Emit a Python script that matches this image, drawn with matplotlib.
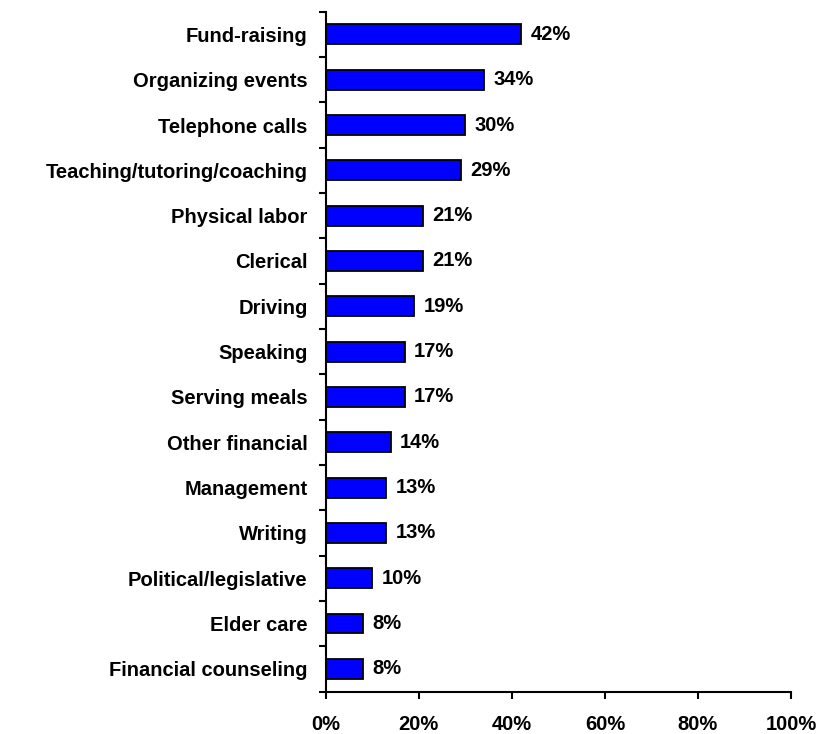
import matplotlib
matplotlib.use("Agg")
import matplotlib.pyplot as plt
import numpy as np

categories = ["Fund-raising", "Organizing events", "Telephone calls",
              "Teaching/tutoring/coaching", "Physical labor", "Clerical",
              "Driving", "Speaking", "Serving meals", "Other financial",
              "Management", "Writing", "Political/legislative",
              "Elder care", "Financial counseling"]
values = [42, 34, 30, 29, 21, 21, 19, 17, 17, 14, 13, 13, 10, 8, 8]
xticks = [0, 20, 40, 60, 80, 100]
xtick_labels = ["0%", "20%", "40%", "60%", "80%", "100%"]

plt.rcParams['font.family'] = ['Liberation Sans', 'DejaVu Sans']
plt.rcParams['font.weight'] = 'bold'

FS = 14.5
fig = plt.figure(figsize=(8.32, 7.34), dpi=100)
ax = fig.add_axes([0.3915, 0.0579, 0.9507 - 0.3915, 0.984 - 0.0579])

n = len(categories)
y = np.arange(n)
ax.barh(y, values, height=0.44, color="#0000FF", edgecolor="black", linewidth=1.3)
ax.set_ylim(n - 0.5, -0.5)
ax.set_xlim(0, 100)

for yi, v in zip(y, values):
    ax.text(v + 2.0, yi, f"{v}%", va="center", ha="left", fontsize=FS, fontweight="bold")

ax.set_xticks(xticks)
ax.set_xticklabels(xtick_labels, fontsize=FS, fontweight="bold")
ax.set_yticks(y)
ax.set_yticklabels(categories, fontsize=FS, fontweight="bold")
ax.tick_params(axis="y", which="major", length=0, pad=13)
ax.set_yticks(np.arange(-0.5, n, 1.0), minor=True)
ax.tick_params(axis="y", which="minor", length=5, width=1.5, direction="out")
ax.tick_params(axis="x", length=5, width=1.5, direction="out", pad=12)

for s in ["top", "right"]:
    ax.spines[s].set_visible(False)
for s in ["left", "bottom"]:
    ax.spines[s].set_linewidth(1.5)

fig.savefig("out.png", dpi=100)
